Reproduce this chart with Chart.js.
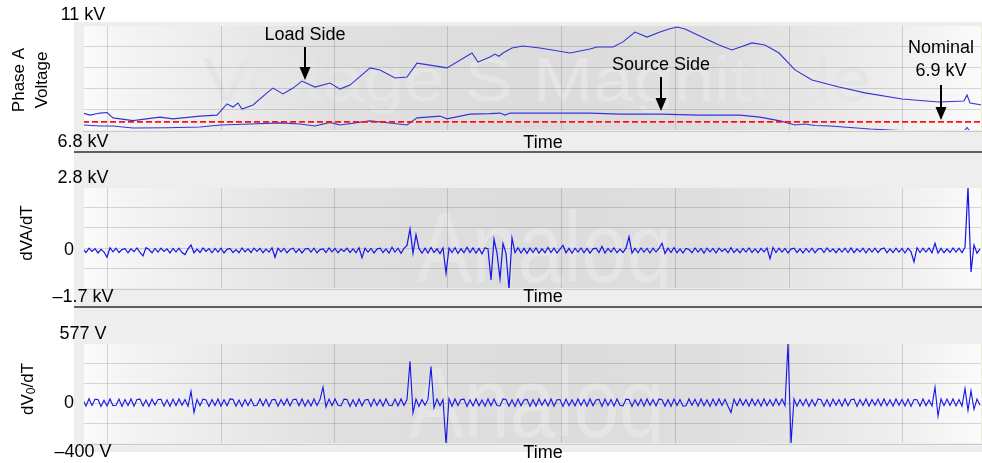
<!DOCTYPE html>
<html>
<head>
<meta charset="utf-8">
<script src="https://cdn.jsdelivr.net/npm/chart.js@4.4.1/dist/chart.umd.min.js"></script>
<style>
    html, body { margin: 0; padding: 0; background: #fff; }
    #wrap { position: relative; width: 982px; height: 463px; overflow: hidden; }
    #wrap canvas { position: absolute; left: 0; }
</style>
</head>
<body>
<div id="wrap">
    <canvas id="c1" width="982" height="153" style="top:0"></canvas>
    <canvas id="c2" width="982" height="155" style="top:153px"></canvas>
    <canvas id="c3" width="982" height="155" style="top:308px"></canvas>
</div>
<script>
// x axis is in samples (one sample ~ one screen column of the recorder plot)
var timeMax = 899;
var timeGrid = [24, 138, 251, 364, 478, 592, 706, 819];

// Panel 1: phase A voltage magnitude, kV
var loadSideX = [0, 7, 17, 24, 30, 50, 77, 90, 117, 134, 144, 150, 155, 159, 170, 184, 190, 200, 210, 219,
    232, 247, 257, 267, 287, 297, 312, 324, 334, 347, 364, 389, 395, 407, 412, 416, 420, 429, 440, 457,
    487, 507, 514, 530, 540, 552, 564, 577, 586, 594, 602, 619, 636, 649, 669, 682, 696, 712, 729, 756,
    782, 819, 856, 881, 884, 887, 899];
var loadSideKV = [7.51, 7.43, 7.51, 7.53, 7.32, 7.21, 7.35, 7.28, 7.39, 7.43, 7.87, 7.75, 7.91, 7.67, 7.83, 8.31, 8.50, 8.27, 8.50, 8.78,
    8.54, 8.70, 8.46, 8.62, 9.30, 9.22, 8.90, 8.94, 9.49, 9.41, 9.30, 9.89, 9.53, 9.73, 9.85, 9.76, 9.89, 10.09, 10.17, 10.09,
    9.89, 10.05, 10.13, 10.13, 10.33, 10.72, 10.52, 10.72, 10.84, 10.92, 10.84, 10.52, 10.21, 10.01, 10.29, 10.21, 9.89, 9.22, 8.82, 8.54,
    8.31, 8.07, 7.95, 7.99, 8.23, 7.91, 7.83];
var sourceSideX = [0, 17, 30, 50, 84, 117, 138, 167, 197, 217, 232, 247, 257, 287, 307, 324, 334, 357, 364, 387,
    407, 417, 422, 427, 447, 477, 507, 537, 577, 617, 657, 677, 697, 712, 722, 732, 747, 787, 827, 857,
    881, 884, 887, 899];
var sourceSideKV = [7.04, 7.00, 7.00, 6.92, 6.93, 6.96, 7.04, 7.08, 7.12, 7.08, 7.00, 7.14, 7.04, 7.20, 7.12, 7.04, 7.32, 7.39, 7.28, 7.47,
    7.49, 7.51, 7.43, 7.51, 7.51, 7.51, 7.51, 7.47, 7.47, 7.43, 7.43, 7.35, 7.20, 7.04, 7.08, 7.02, 7.00, 6.88, 6.80, 6.78,
    6.78, 6.94, 6.78, 6.76];
var nominalKV = 7.16;
var voltTicks = [6.8, 7.64, 8.48, 9.32, 10.16, 11];
var voltLabels = ["11 kV", "6.8 kV"];

// Panel 2: dVA/dT, kV, one value every 3 samples
var dvaStep = 3;
var dvaKV = [
    0.06, -0.09, 0.10, -0.04, 0.08, -0.11, 0.05, -0.07, -0.30, 0.12, -0.06, 0.10, -0.09, 0.04, 0.08,
    -0.10, 0.07, -0.05, 0.11, -0.09, -0.24, 0.12, 0.04, -0.10, 0.09, -0.07, 0.10, -0.04, 0.07, -0.11,
    0.09, -0.06, 0.10, -0.09, -0.18, 0.07, 0.24, -0.10, 0.06, -0.09, 0.11, -0.04, 0.08, -0.10, 0.09,
    -0.07, 0.10, -0.11, 0.05, 0.09, -0.09, 0.04, -0.10, 0.11, -0.06, 0.07, -0.09, 0.10, -0.04, 0.09,
    -0.10, 0.06, -0.07, 0.12, -0.30, 0.10, -0.06, 0.09, -0.10, 0.04, 0.10, -0.09, 0.07, -0.11, 0.06,
    0.09, -0.07, 0.10, -0.10, 0.04, 0.07, -0.09, 0.11, -0.06, 0.09, -0.10, 0.06, -0.04, 0.10, -0.09,
    0.07, -0.10, 0.12, -0.32, 0.10, -0.07, 0.09, -0.11, 0.06, 0.10, -0.09, 0.07, -0.12, 0.14, -0.07,
    0.10, -0.13, 0.09, 0.22, 0.95, -0.12, 0.70, 0.08, -0.12, 0.10, -0.11, 0.13, -0.09, 0.07, -0.14,
    0.11, -1.00, 0.10, -0.09, 0.12, -0.13, 0.07, -0.10, 0.14, -0.09, 0.11, -0.12, 0.09, -0.15, 0.12,
    0.07, -1.30, 0.50, -0.12, -1.25, 0.30, -0.12, -1.70, 0.55, -0.10, 0.12, -0.11, 0.09, -0.13, 0.10,
    -0.09, 0.11, -0.12, 0.07, -0.10, 0.13, -0.09, 0.10, -0.11, 0.06, 0.22, -0.10, 0.09, -0.12, 0.10,
    -0.07, 0.11, -0.10, 0.09, -0.12, 0.07, 0.10, -0.09, 0.18, -0.11, 0.09, -0.07, 0.12, -0.10, 0.06,
    -0.09, 0.10, 0.60, -0.12, 0.09, -0.10, 0.11, -0.07, 0.09, -0.11, 0.10, -0.06, 0.09, 0.32, -0.13,
    0.10, -0.09, 0.12, -0.10, 0.07, -0.11, 0.09, 0.04, -0.10, 0.11, -0.07, 0.09, -0.12, 0.10, -0.06,
    0.09, -0.11, 0.10, -0.04, 0.07, -0.10, 0.12, -0.09, 0.06, -0.10, 0.09, -0.07, 0.11, -0.09, 0.07,
    -0.10, 0.09, -0.06, 0.11, -0.36, 0.13, -0.09, 0.10, -0.07, 0.09, -0.11, 0.06, 0.10, -0.09, 0.07,
    -0.11, 0.09, -0.07, 0.10, -0.10, 0.06, 0.09, -0.09, 0.11, -0.06, 0.07, -0.10, 0.09, -0.07, 0.10,
    -0.09, 0.11, -0.10, 0.07, -0.06, 0.10, -0.11, 0.09, -0.07, 0.10, -0.09, 0.06, 0.11, -0.10, 0.07,
    -0.09, 0.10, -0.07, 0.09, -0.11, 0.10, -0.06, -0.50, 0.12, -0.09, 0.10, -0.07, 0.11, -0.10, 0.32,
    -0.12, 0.09, -0.10, 0.07, -0.09, 0.11, -0.07, 0.10, -0.09, 0.14, 2.80, -0.95, 0.24, -0.12, 0.07
];
var dvaTicks = [-1.7, -0.8, 0.1, 1.0, 1.9, 2.8];
var dvaLabels = ["2.8 kV", "\u20131.7 kV"];

// Panel 3: dV0/dT, V, one value every 3 samples
var dv0Step = 3;
var dv0V = [
    26, -34, 38, -28, 32, 30, -36, 24, -32, 36, -30, -26, 34, -36, 30,
    -28, 36, -34, 30, 34, -32, 26, -36, 34, -24, 30, 32, -34, 28, -36,
    34, -30, 36, -26, 30, -34, 110, -95, 32, -30, 34, 26, -36, 30, -28,
    36, -34, 28, -30, 36, 32, -34, 26, -36, 30, -28, 34, -32, -26, 36,
    -30, 34, -36, 28, 32, -34, 30, -26, 36, -32, 28, 34, -30, 36, -34,
    26, -32, 36, -28, 30, 150, -40, 34, -30, 36, -26, -32, 34, 30, -36,
    28, -34, 36, -30, 26, 32, -36, 34, -28, 30, -34, 36, -26, -30, 34,
    -32, 36, -28, 30, 400, -100, 34, -36, 30, -26, 34, 350, -50, 36, -30,
    30, -400, 40, -34, 36, -28, 30, 34, -36, 28, -32, 36, -30, 26, -34,
    36, -30, 34, -28, -32, 36, 30, -34, 28, -36, 34, -30, 26, 32, -36,
    30, -34, 36, -26, 30, -32, 36, -34, 28, 30, -36, 34, -30, 28, -32,
    36, -28, 30, -34, 36, -30, 26, 32, -36, 34, -28, 30, -34, 36, -26,
    -32, 34, 30, -36, 28, -30, 34, -34, 36, -26, 30, -32, 36, 28, -34,
    30, -36, 34, -28, 30, -34, -30, 36, -26, 32, -34, 36, -30, 28, -36,
    34, -30, 36, -28, 32, -34, -95, 34, -30, 36, -26, 30, -34, 36, -28,
    30, -34, 36, -30, 28, -32, 36, -26, 34, -30, 577, -400, 36, -34, 30,
    -28, 34, -36, 30, -32, 36, 28, -34, 30, -36, 34, -26, 30, -34, 36,
    -30, 28, 34, -36, 30, -28, 36, -34, 30, -26, 34, -32, 36, -30, 28,
    -34, 36, -26, 30, -32, 34, -36, 30, 28, -34, 36, -30, 26, -32, 150,
    -130, 36, -30, 34, -28, 36, -32, 30, -34, 135, -75, 115, -65, 34, -26
];
var dv0Ticks = [-400, -204.6, -9.2, 186.2, 381.6, 577];
var dv0Labels = ["577 V", "\u2013400 V"];

// Call-outs on panel 1 (x in samples, y in kV)
var callouts = [
    { lines: ["Load Side"], x: 222, textY: [10.60], from: 10.13, to: 8.82 },
    { lines: ["Source Side"], x: 578, textY: [9.41], from: 8.94, to: 7.59 },
    { lines: ["Nominal", "6.9 kV"], x: 858, textY: [10.09, 9.18], from: 8.62, to: 7.24 }
];

var FONT = '"Liberation Sans", Arial, Helvetica, sans-serif';
var LINE_BLUE = "#3434d6";
var TRACE_BLUE = "#1414ea";

function pairs(xs, ys) {
    return ys.map(function (y, i) { return { x: xs[i], y: y }; });
}

function sampled(step, ys) {
    return ys.map(function (y, i) { return { x: i * step, y: y }; });
}

function rotatedText(ctx, parts, cx, cy) {
    ctx.save();
    ctx.translate(cx, cy);
    ctx.rotate(-Math.PI / 2);
    ctx.textAlign = "left";
    ctx.textBaseline = "middle";
    var total = 0;
    parts.forEach(function (p) {
        ctx.font = p.size + "px " + FONT;
        p.w = ctx.measureText(p.t).width;
        total += p.w;
    });
    var x = -total / 2;
    parts.forEach(function (p) {
        ctx.font = p.size + "px " + FONT;
        ctx.fillText(p.t, x, p.dy || 0);
        x += p.w;
    });
    ctx.restore();
}

function arrow(ctx, x, y0, y1) {
    ctx.beginPath();
    ctx.moveTo(x, y0);
    ctx.lineTo(x, y1 - 10);
    ctx.lineWidth = 2;
    ctx.strokeStyle = "#000";
    ctx.stroke();
    ctx.beginPath();
    ctx.moveTo(x - 5.5, y1 - 13);
    ctx.lineTo(x + 5.5, y1 - 13);
    ctx.lineTo(x, y1);
    ctx.closePath();
    ctx.fillStyle = "#000";
    ctx.fill();
}

function panelPlugin(p) {
    return {
        id: "panel_" + p.canvas,
        beforeDraw: function (chart) {
            var ctx = chart.ctx, a = chart.chartArea;
            ctx.save();
            ctx.fillStyle = "#ffffff";
            ctx.fillRect(0, 0, chart.width, chart.height);
            ctx.fillStyle = "#eeeeee";
            ctx.fillRect(74, p.frame[0], chart.width - 74, p.frame[1] - p.frame[0]);
            if (p.sep !== null) {
                ctx.fillStyle = "#5e5e5e";
                ctx.fillRect(74, p.sep, chart.width - 74, 2);
            }
            var g = ctx.createLinearGradient(a.left, 0, a.right, 0);
            g.addColorStop(0, "#fbfbfb");
            g.addColorStop(0.03, "#f6f6f6");
            g.addColorStop(0.15, "#ebebeb");
            g.addColorStop(0.28, "#e0e0e0");
            g.addColorStop(0.5, "#dcdcdc");
            g.addColorStop(0.7, "#dedede");
            g.addColorStop(0.8, "#e6e6e6");
            g.addColorStop(0.9, "#eeeeee");
            g.addColorStop(1, "#fbfbfb");
            ctx.fillStyle = g;
            ctx.fillRect(a.left, a.top, a.right - a.left, a.bottom - a.top);
            // faint watermark
            ctx.beginPath();
            ctx.rect(a.left, a.top, a.right - a.left, a.bottom - a.top);
            ctx.clip();
            ctx.font = p.wm.size + "px " + FONT;
            ctx.fillStyle = "#e5e5e5";
            ctx.textAlign = "center";
            ctx.textBaseline = "alphabetic";
            ctx.translate(p.wm.x, p.wm.y);
            ctx.scale(p.wm.sx, 1);
            ctx.fillText(p.wm.text, 0, 0);
            ctx.restore();
        },
        afterDraw: function (chart) {
            var ctx = chart.ctx, a = chart.chartArea;
            var ys = chart.scales.y, xs = chart.scales.x;
            ctx.save();
            ctx.strokeStyle = "#efeed8";
            ctx.lineWidth = 1;
            ctx.strokeRect(a.left + 0.5, a.top + 0.5, a.right - a.left - 1, a.bottom - a.top - 1);

            ctx.fillStyle = "#000";
            ctx.font = "18px " + FONT;
            ctx.textBaseline = "middle";
            ctx.textAlign = "center";
            ctx.fillText(p.labels[0], a.left, ys.getPixelForValue(p.yMax) - p.gapTop);
            ctx.fillText(p.labels[1], a.left, ys.getPixelForValue(p.yMin) + p.gapBottom);
            ctx.fillText("Time", 543, a.bottom + p.timeGap);
            if (p.zero) {
                ctx.textAlign = "right";
                ctx.fillText("0", a.left - 9, ys.getPixelForValue(0));
            }
            p.title.forEach(function (t) { rotatedText(ctx, t.parts, t.x, p.titleY); });

            (p.callouts || []).forEach(function (c) {
                var cx = xs.getPixelForValue(c.x);
                ctx.textAlign = "center";
                ctx.fillStyle = "#000";
                ctx.font = "18px " + FONT;
                c.lines.forEach(function (line, i) {
                    ctx.fillText(line, cx, ys.getPixelForValue(c.textY[i]));
                });
                arrow(ctx, cx, ys.getPixelForValue(c.from), ys.getPixelForValue(c.to));
            });
            ctx.restore();
        }
    };
}

function traceDataset(points, color, width) {
    return {
        data: points,
        borderColor: color,
        borderWidth: width,
        pointRadius: 0,
        tension: 0,
        fill: false
    };
}

var panels = [
    {
        canvas: "c1", pad: { top: 25, bottom: 22 }, yMin: 6.8, yMax: 11, yTicks: voltTicks,
        frame: [22, 151], sep: 151, labels: voltLabels, zero: false,
        gapTop: 10, gapBottom: 11, timeGap: 12, titleY: 80,
        title: [
            { x: 19, parts: [{ t: "Phase A", size: 17 }] },
            { x: 42, parts: [{ t: "Voltage", size: 17 }] }
        ],
        wm: { text: "Voltage S Magnitude", size: 63, x: 537, y: 101, sx: 1.15 },
        callouts: callouts,
        datasets: [
            {
                data: [{ x: 0, y: nominalKV }, { x: timeMax, y: nominalKV }],
                borderColor: "#ff1010", borderWidth: 1.6, borderDash: [6, 3],
                pointRadius: 0, fill: false, order: 0
            },
            Object.assign(traceDataset(pairs(loadSideX, loadSideKV), LINE_BLUE, 1.1), { order: 1 }),
            Object.assign(traceDataset(pairs(sourceSideX, sourceSideKV), LINE_BLUE, 1.1), { order: 2 })
        ]
    },
    {
        canvas: "c2", pad: { top: 34, bottom: 19 }, yMin: -1.7, yMax: 2.8, yTicks: dvaTicks,
        frame: [0, 153], sep: 153, labels: dvaLabels, zero: true,
        gapTop: 9, gapBottom: 8, timeGap: 8, titleY: 80,
        title: [{ x: 27, parts: [{ t: "dVA/dT", size: 17 }] }],
        wm: { text: "Analog", size: 100, x: 545, y: 129, sx: 0.82 },
        datasets: [traceDataset(sampled(dvaStep, dvaKV), TRACE_BLUE, 1.2)]
    },
    {
        canvas: "c3", pad: { top: 35, bottom: 19 }, yMin: -400, yMax: 577, yTicks: dv0Ticks,
        frame: [0, 144], sep: null, labels: dv0Labels, zero: true,
        gapTop: 9, gapBottom: 8, timeGap: 9, titleY: 81,
        title: [{ x: 28, parts: [{ t: "dV", size: 17 }, { t: "0", size: 12, dy: 4 }, { t: "/dT", size: 17 }] }],
        wm: { text: "Analog", size: 100, x: 537, y: 129, sx: 0.82 },
        datasets: [traceDataset(sampled(dv0Step, dv0V), TRACE_BLUE, 1.1)]
    }
];

function buildChart(p) {
    var grid = { color: "rgba(0,0,0,0.14)", lineWidth: 1, drawTicks: false };
    return new Chart(document.getElementById(p.canvas), {
        type: "line",
        data: { datasets: p.datasets },
        options: {
            responsive: false,
            animation: false,
            devicePixelRatio: 1,
            events: [],
            layout: { padding: { left: 83, right: 0, top: p.pad.top, bottom: p.pad.bottom } },
            scales: {
                x: {
                    type: "linear", min: 0, max: timeMax,
                    grid: grid, border: { display: false },
                    ticks: { display: false },
                    afterBuildTicks: function (s) { s.ticks = timeGrid.map(function (v) { return { value: v }; }); },
                    afterFit: function (s) { s.height = 0; }
                },
                y: {
                    type: "linear", min: p.yMin, max: p.yMax,
                    grid: grid, border: { display: false },
                    ticks: { display: false },
                    afterBuildTicks: function (s) { s.ticks = p.yTicks.map(function (v) { return { value: v }; }); },
                    afterFit: function (s) { s.width = 0; }
                }
            },
            plugins: { legend: { display: false }, tooltip: { enabled: false } }
        },
        plugins: [panelPlugin(p)]
    });
}

panels.forEach(buildChart);
</script>
</body>
</html>
